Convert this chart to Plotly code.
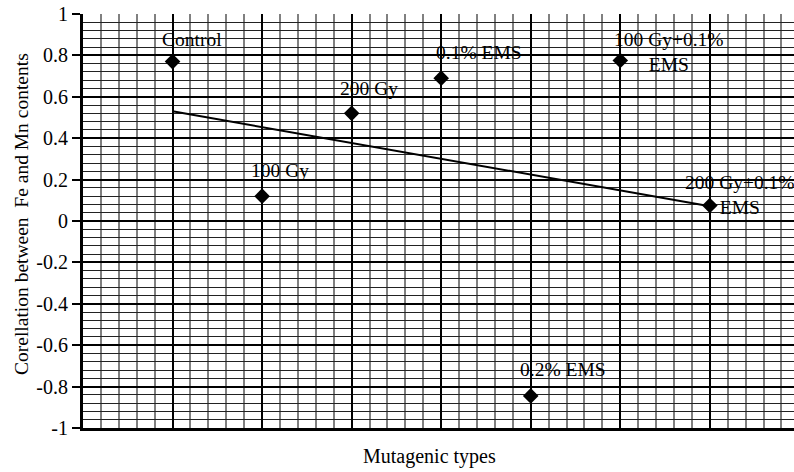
import numpy as np
import plotly.graph_objects as go

categories = ["Control", "100 Gy", "200 Gy", "0.1% EMS", "0.2% EMS",
              "100 Gy+0.1%<br>EMS", "200 Gy+0.1%<br>EMS"]
x_pos = [1, 2, 3, 4, 5, 6, 7]
corr_values = [0.77, 0.12, 0.52, 0.69, -0.845, 0.775, 0.075]
y_ticks = [1, 0.8, 0.6, 0.4, 0.2, 0, -0.2, -0.4, -0.6, -0.8, -1]
y_tick_labels = ["1", "0.8", "0.6", "0.4", "0.2", "0", "-0.2", "-0.4", "-0.6", "-0.8", "-1"]
label_shifts = [(19, 22), (18, 26), (17, 25), (38, 26), (32, 26), (49, 9), (30, 10)]

FONT = "Liberation Serif, Times New Roman, serif"

slope, intercept = np.polyfit(x_pos, corr_values, 1)
trend_y = [slope * x + intercept for x in x_pos]

fig = go.Figure()
fig.add_trace(go.Scatter(x=x_pos, y=trend_y, mode="lines",
                         line=dict(color="black", width=2), showlegend=False,
                         hoverinfo="skip"))
fig.add_trace(go.Scatter(x=x_pos, y=corr_values, mode="markers",
                         marker=dict(symbol="diamond", size=12, color="black"),
                         showlegend=False))

for x, y, lab, (dx, dy) in zip(x_pos, corr_values, categories, label_shifts):
    fig.add_annotation(x=x, y=y, text=lab, showarrow=False, xshift=dx, yshift=dy,
                       font=dict(family=FONT, size=19.5, color="black"), align="center")

fig.add_annotation(xref="paper", yref="paper", x=-0.0858, y=0.517,
                   xanchor="center", yanchor="middle",
                   text="Corellation between  Fe and Mn contents", textangle=-90,
                   showarrow=False, font=dict(family=FONT, size=19.5, color="black"))
fig.add_annotation(xref="paper", yref="paper", x=0.488, y=-0.070,
                   xanchor="center", yanchor="middle",
                   text="Mutagenic types",
                   showarrow=False, font=dict(family=FONT, size=20, color="black"))

fig.update_layout(
    width=794, height=472,
    margin=dict(l=83, r=0, t=14, b=44),
    plot_bgcolor="white", paper_bgcolor="white",
    font=dict(family=FONT, size=20, color="black"),
    xaxis=dict(range=[0, 7.94], showticklabels=False, ticks="",
               showgrid=True, gridcolor="black", gridwidth=2,
               tick0=0, dtick=1, zeroline=False, automargin=False,
               showline=True, linecolor="black", linewidth=3,
               minor=dict(dtick=0.2, tick0=0, showgrid=True, gridcolor="#808080", gridwidth=1.5)),
    yaxis=dict(range=[-1, 1], tickvals=y_ticks, ticktext=y_tick_labels,
               ticks="outside", ticklen=8, tickwidth=1.5, tickcolor="black",
               showgrid=True, gridcolor="black", gridwidth=2, automargin=False,
               zeroline=False, showline=True, linecolor="black", linewidth=3,
               minor=dict(dtick=0.04, tick0=0, showgrid=True, gridcolor="#222", gridwidth=1),
               tickfont=dict(family=FONT, size=20)),
)

fig.write_html("out.html", config={"displayModeBar": False},
               post_script="document.body.style.margin='0';document.body.style.overflow='hidden';")
